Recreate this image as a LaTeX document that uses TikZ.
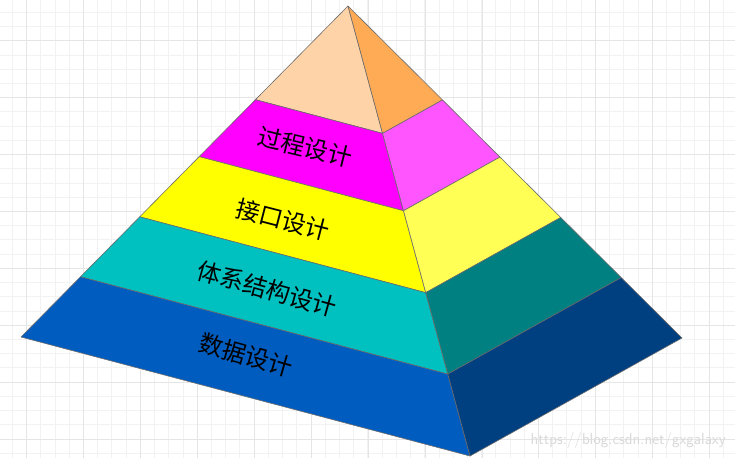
\documentclass[tikz,border=0pt]{standalone}
\usepackage{fontspec}
\newfontfamily\cjk{Noto Sans CJK SC}
\usepackage{xcolor}
\usetikzlibrary{calc}

\definecolor{peachL}{HTML}{FFD3A8}
\definecolor{peachR}{HTML}{FFAA55}
\definecolor{pinkL}{HTML}{FF00FF}
\definecolor{pinkR}{HTML}{FF55FF}
\definecolor{yellL}{HTML}{FFFF00}
\definecolor{yellR}{HTML}{FFFF55}
\definecolor{cyanL}{HTML}{00C0C0}
\definecolor{cyanR}{HTML}{008080}
\definecolor{blueL}{HTML}{005CBF}
\definecolor{blueR}{HTML}{003F80}

\begin{document}
\begin{tikzpicture}[x=1pt, y=-1pt,
      face/.style = {draw=gray!85!black, line width=0.6pt, line join=round},
      gridline/.style = {draw=gray!10, line width=0.8pt},
      gridmajor/.style = {draw=gray!20, line width=0.8pt},
      lbl/.style = {font=\cjk\fontsize{24}{24}\selectfont, inner sep=0pt} ]

\useasboundingbox (0,0) rectangle (735,458);
\fill[white] (0,0) rectangle (735,458);

% grid
\foreach \i in {0,...,51} {
  \draw[gridline] ({12.3+\i*14.22},0) -- ++(0,458);
  \draw[gridline] (0,{12.3+\i*14.22}) -- ++(735,0);
}
\foreach \i in {0,...,12} {
  \draw[gridmajor] ({26.7+\i*56.9},0) -- ++(0,458);
  \draw[gridmajor] (0,{40.7+\i*56.9}) -- ++(735,0);
}

% pyramid corners
\coordinate (apex)  at (348,6);
\coordinate (left)  at (21,337);
\coordinate (front) at (470,456);
\coordinate (right) at (682,338);

% bands: from / to / left colour / right colour
\foreach \ta/\tb/\cl/\cr in {0/0.283/peachL/peachR,
                             0.283/0.455/pinkL/pinkR,
                             0.455/0.637/yellL/yellR,
                             0.637/0.818/cyanL/cyanR,
                             0.818/1/blueL/blueR} {
  \filldraw[face, fill=\cl] ($(apex)!\ta!(left)$) -- ($(apex)!\ta!(front)$)
      -- ($(apex)!\tb!(front)$) -- ($(apex)!\tb!(left)$) -- cycle;
  \filldraw[face, fill=\cr] ($(apex)!\ta!(front)$) -- ($(apex)!\ta!(right)$)
      -- ($(apex)!\tb!(right)$) -- ($(apex)!\tb!(front)$) -- cycle;
}

% labels
\node (proc) [lbl, rotate=-13.5] at (305,147) {过程设计};
\node (intf) [lbl, rotate=-14.5] at (283,220) {接口设计};
\node (arch) [lbl, rotate=-15.5] at (267,289) {体系结构设计};
\node (data) [lbl, rotate=-16]   at (246,355) {数据设计};

% watermark
\node (mark) [font=\sffamily\fontsize{16}{16}\selectfont, text=gray!30,
              anchor=east, inner sep=0pt] at (726,440) {https://blog.csdn.net/gxgalaxy};
\end{tikzpicture}
\end{document}
